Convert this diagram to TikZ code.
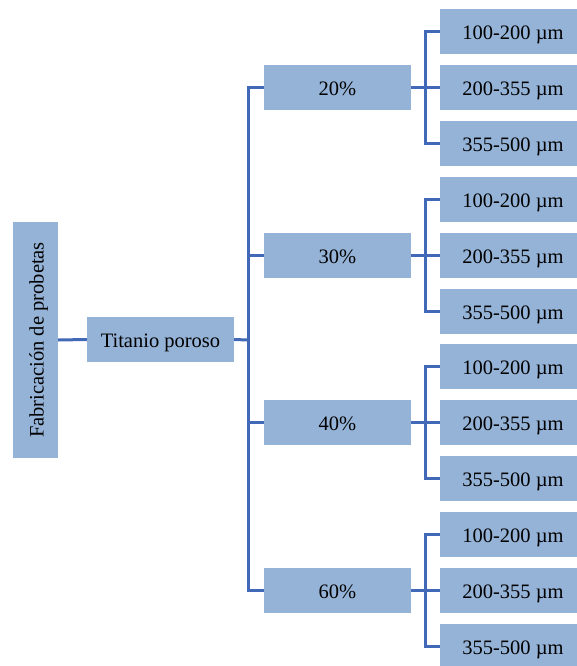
\documentclass[tikz,border=0pt]{standalone}
\usepackage{fontspec}
\setmainfont{Liberation Serif}
\definecolor{boxfill}{HTML}{95B3D7}
\definecolor{linkblue}{HTML}{4169B8}
\tikzset{
  label text/.style={inner sep=0pt, font=\fontsize{20.5}{24}\selectfont, text height=16pt, text depth=0pt},
  box/.style={label text, fill=boxfill, draw=none},
  pctbox/.style={box, minimum width=147pt, minimum height=45pt},
  leafbox/.style={box, minimum width=146pt, minimum height=45pt},
  link/.style={draw=linkblue, line width=3pt}
}
\begin{document}
\begin{tikzpicture}[x=1pt,y=-1pt]
  \clip (0,0) rectangle (577,666);
  \fill[white] (0,0) rectangle (577,666);

  % root and second level
  \node[box, minimum width=45pt, minimum height=236pt] (root) at (35.5,340) {};
  \node[label text, rotate=90] (roottext) at (root.center) {Fabricación de probetas};
  \node[box, minimum width=147pt, minimum height=45pt] (ti) at (160.5,339.5) {Titanio poroso};
  \draw[link] (root.east) -- (ti.west);

  % trunk towards the porosity levels
  \coordinate (trunk) at (248,340);
  \draw[link] (ti.east) -- (trunk);

  \foreach \name/\txt/\yy in {a/20\%/87.5, b/30\%/255, c/40\%/422.5, d/60\%/590}{
    \node[pctbox] (\name) at (337.5,\yy) {\txt};
    \coordinate (\name t) at (248,\yy);
    \draw[link] (\name t) -- (\name.west);
    \coordinate (\name s) at (425,\yy);
    \draw[link] (\name.east) -- (\name s);
    \node[leafbox] (\name1) at (513,\yy-56) {100-200 µm};
    \node[leafbox] (\name2) at (513,\yy) {200-355 µm};
    \node[leafbox] (\name3) at (513,\yy+56) {355-500 µm};
    \draw[link] (\name1.west) -| (\name s) |- (\name3.west);
    \draw[link] (\name s) -- (\name2.west);
  }
  \draw[link] ([yshift=1.5pt]at) -- ([yshift=-1.5pt]dt);
\end{tikzpicture}
\end{document}
